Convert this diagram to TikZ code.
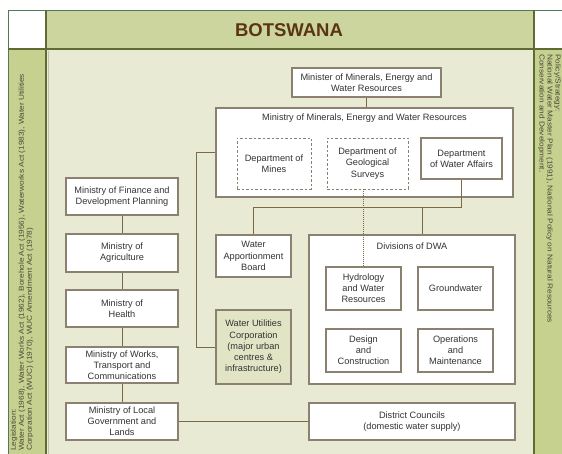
\documentclass[tikz,border=0pt]{standalone}
\usepackage{fontspec}
\setmainfont{Liberation Sans}
\newfontfamily\stripfont[FakeStretch=1.15]{Liberation Sans}
\definecolor{mainbg}{HTML}{E8EAD3}
\definecolor{stripc}{HTML}{C6D08F}
\definecolor{headc}{HTML}{CDD59E}
\definecolor{olive}{HTML}{5E6B32}
\definecolor{outerc}{HTML}{4F7A5A}
\definecolor{boxc}{HTML}{8C8070}
\definecolor{connc}{HTML}{7D6A45}
\definecolor{wucfill}{HTML}{E2E5C5}
\definecolor{titlec}{HTML}{5A3515}
\definecolor{stripText}{HTML}{4A4A3A}
\tikzset{
  box/.style={draw=boxc, line width=1.2pt, fill=white, align=center, inner sep=1pt,
    text=black!80, font=\fontsize{9.2}{11.2}\selectfont},
  dbox/.style={box, line width=0.9pt, dash pattern=on 2.5pt off 2pt},
  conn/.style={draw=connc, line width=1pt},
  dconn/.style={draw=connc, line width=1pt, dash pattern=on 1pt off 1pt},
  striptext/.style={align=left, inner sep=0pt, text=stripText, font=\stripfont\fontsize{7.2}{8}\selectfont},
}
\newcommand\placebox[7]{%
  \pgfmathsetmacro\bw{#5-#3}\pgfmathsetmacro\bh{#6-#4}%
  \node[#1, minimum width=\bw pt, minimum height=\bh pt] (#2) at ({(#3+#5)/2},{(#4+#6)/2}) {#7};}
\begin{document}
\begin{tikzpicture}[x=1pt,y=-1pt]
\useasboundingbox (0,0) rectangle (562,454);
\clip (0,0) rectangle (562,454);
% background regions
\fill[white] (0,0) rectangle (562,454);
\fill[mainbg] (46,49) rectangle (534,454);
\fill[stripc] (8,49) rectangle (46,454);
\fill[stripc] (534,49) rectangle (562,454);
\fill[headc] (46,10) rectangle (534,49);
\draw[outerc, line width=0.8pt] (8,454) -- (8,10) -- (562,10);
\draw[olive, line width=2pt] (46,10) -- (46,454);
\draw[olive, line width=2pt] (534,10) -- (534,454);
\draw[olive, line width=2pt] (8,49) -- (562,49);
\draw[olive!40, line width=0.8pt] (48.5,51) -- (48.5,454);
\node[font=\bfseries\fontsize{18.5}{18.5}\selectfont, text=titlec] (title) at (289,30) {BOTSWANA};
% strip texts
\node[striptext, rotate=90, anchor=north west] (leg) at (10.5,451)
  {Legislation:\\Water Act (1968), Water Works Act (1962), Borehole Act (1956), Waterworks Act (1983), Water Utilities\\Corporation Act (WUC) (1970), WUC Amendment Act (1978)};
\node[striptext, rotate=-90, anchor=north west] (pol) at (561,54)
  {Policy/Strategy:\\National Water Master Plan (1991), National Policy on Natural Resources\\Conservation and Development.};
% top boxes
\placebox{box}{min}{292}{68}{441}{97}{Minister of Minerals, Energy and\\Water Resources}
\placebox{box}{mewr}{216}{108}{513}{197}{}
\node[box, draw=none, fill=none] (mewrt) at (364.5,118) {Ministry of Minerals, Energy and Water Resources};
\placebox{dbox}{mines}{237}{138}{311}{189}{Department of\\Mines}
\placebox{dbox}{geo}{327}{138}{408}{189}{Department of\\Geological\\Surveys}
\placebox{box}{dwa}{421}{138}{502}{179}{Department\\of Water Affairs}
% left column
\placebox{box}{fin}{66}{178}{178}{215}{Ministry of Finance and\\Development Planning}
\placebox{box}{agr}{66}{234}{178}{272}{Ministry of\\Agriculture}
\placebox{box}{hea}{66}{290}{178}{327}{Ministry of\\Health}
\placebox{box}{wor}{66}{347}{178}{383}{Ministry of Works,\\Transport and\\Communications}
\placebox{box}{lg}{66}{403}{178}{440}{Ministry of Local\\Government and\\Lands}
% middle
\placebox{box}{wab}{216}{235}{291}{277}{Water\\Apportionment\\Board}
\placebox{box, fill=wucfill}{wuc}{216}{310}{291}{384}{Water Utilities\\Corporation\\(major urban\\centres \&\\infrastructure)}
\placebox{box}{div}{309}{235}{515}{384}{}
\node[box, draw=none, fill=none] (divt) at (412,246) {Divisions of DWA};
\placebox{box}{hyd}{326}{267}{401}{310}{Hydrology\\and Water\\Resources}
\placebox{box}{gw}{418}{267}{493}{310}{Groundwater}
\placebox{box}{des}{326}{329}{401}{372}{Design\\and\\Construction}
\placebox{box}{ops}{418}{329}{493}{372}{Operations\\and\\Maintenance}
\placebox{box}{dc}{309}{403}{515}{440}{District Councils\\(domestic water supply)}
% connectors
\coordinate (bus) at (0,208);
\draw[conn] (min.south) -- (min.south |- mewr.north);
\draw[conn] (mewr.west) -- ++(-19,0) |- (wuc.west);
\draw[conn] (dwa.south) -- (dwa.south |- bus) -- (wab.north |- bus) -- (wab.north);
\coordinate (divin) at ([xshift=10pt]div.north);
\draw[conn] (divin) -- (divin |- bus);
\draw[dconn] (hyd.north) -- (hyd.north |- geo.south);
\draw[conn] (fin.south) -- (agr.north);
\draw[conn] (agr.south) -- (hea.north);
\draw[conn] (hea.south) -- (wor.north);
\draw[conn] (wor.south) -- (lg.north);
\draw[conn] (lg.east) -- (dc.west);
\end{tikzpicture}
\end{document}
